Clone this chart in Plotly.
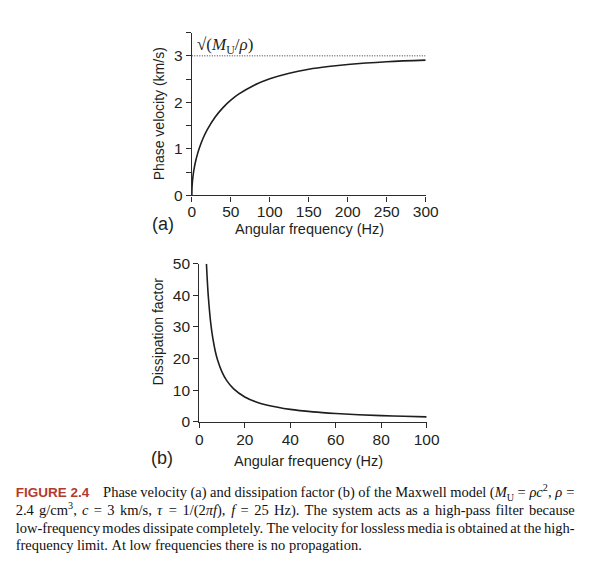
import re
import plotly.graph_objects as go

# Panel (a): phase velocity (km/s) vs angular frequency (Hz)
freq_a = [0, 0.25, 0.5, 1, 2, 3, 5, 7.5, 10, 15, 20, 30, 40, 50, 60, 80, 100, 125, 150, 175, 200, 250, 300]
vel_a = [0, 0.169, 0.239, 0.337, 0.476, 0.581, 0.745, 0.905, 1.037, 1.250, 1.421, 1.686, 1.888, 2.047,
         2.176, 2.370, 2.508, 2.628, 2.712, 2.771, 2.815, 2.873, 2.908]
v_limit = 3.0

# Panel (b): dissipation factor vs angular frequency (Hz)
freq_b = [3.14, 3.5, 4, 5, 6, 7, 8, 10, 12, 15, 20, 25, 30, 40, 50, 60, 70, 80, 90, 100]
diss_b = [50.0, 44.9, 39.3, 31.4, 26.2, 22.4, 19.6, 15.7, 13.1, 10.5, 7.85, 6.28, 5.24, 3.93, 3.14,
          2.62, 2.24, 1.96, 1.75, 1.57]

ticks_a_x = [0, 50, 100, 150, 200, 250, 300]
ticks_a_y = [0, 1, 2, 3]
minor_a_y = [0.5, 1.5, 2.5, 3.5]
ticks_b_x = [0, 20, 40, 60, 80, 100]
ticks_b_y = [0, 10, 20, 30, 40, 50]

caption_label = "FIGURE 2.4"
caption_lines = [
    "Phase velocity (a) and dissipation factor (b) of the Maxwell model (<i>M</i><sub>U</sub> = <i>ρc</i><sup>2</sup>, <i>ρ</i> =",
    "2.4 g/cm<sup>3</sup>, <i>c</i> = 3 km/s, <i>τ</i> = 1/(2<i>πf</i>), <i>f</i> = 25 Hz). The system acts as a high-pass filter because",
    "low-frequency modes dissipate completely. The velocity for lossless media is obtained at the high-",
    "frequency limit. At low frequencies there is no propagation.",
]

W, H = 600, 561
AX = "#2b2b2b"
TXT = "#231f20"
SANS = "Liberation Sans, Arial, sans-serif"
SERIF = "Liberation Serif, Times New Roman, serif"

def px(x):
    return x / W

def py(y):
    return 1 - y / H

fig = go.Figure()
fig.add_trace(go.Scatter(x=freq_a, y=vel_a, mode="lines", line=dict(color="#1e1e1e", width=1.6, shape="spline"),
                         xaxis="x", yaxis="y", showlegend=False, hoverinfo="skip"))
fig.add_trace(go.Scatter(x=[0, 300], y=[v_limit, v_limit], mode="lines",
                         line=dict(color="#333", width=1, dash="1px,1.5px"),
                         xaxis="x", yaxis="y", showlegend=False, hoverinfo="skip"))
fig.add_trace(go.Scatter(x=freq_b, y=diss_b, mode="lines", line=dict(color="#1e1e1e", width=1.6, shape="spline"),
                         xaxis="x2", yaxis="y2", showlegend=False, hoverinfo="skip"))

common = dict(showgrid=False, zeroline=False, showline=True, linecolor=AX, linewidth=1.2,
              ticks="outside", ticklen=5, tickwidth=1.2, tickcolor=AX,
              tickfont=dict(family=SANS, size=15.5, color=TXT), fixedrange=True)

# ---- caption layout (justified, word by word, Times metrics) ----
TR = {' ': 250, '(': 333, ')': 333, ',': 250, '-': 333, '.': 250, '/': 278, '=': 564,
      'A': 722, 'B': 667, 'C': 667, 'D': 722, 'E': 611, 'F': 556, 'G': 722, 'H': 722, 'I': 333,
      'M': 889, 'P': 556, 'T': 611, 'U': 722,
      'a': 444, 'b': 500, 'c': 444, 'd': 500, 'e': 444, 'f': 333, 'g': 500, 'h': 500, 'i': 278,
      'j': 278, 'k': 500, 'l': 278, 'm': 778, 'n': 500, 'o': 500, 'p': 500, 'q': 500, 'r': 333,
      's': 389, 't': 278, 'u': 500, 'v': 500, 'w': 722, 'x': 500, 'y': 500, 'z': 444,
      'ρ': 500, 'τ': 440, 'π': 540}
TI = {'M': 833, 'c': 444, 'f': 278, 'ρ': 500, 'τ': 440, 'π': 540}

def text_width(s, size):
    total = 0.0
    ital = False
    scale = 1.0
    for tok in re.split(r"(<[^>]+>)", s):
        if not tok:
            continue
        if tok.startswith("<"):
            t = tok.lower()
            if t == "<i>":
                ital = True
            elif t == "</i>":
                ital = False
            elif t in ("<sub>", "<sup>"):
                scale = 0.7
            elif t in ("</sub>", "</sup>"):
                scale = 1.0
            continue
        for ch in tok:
            w = TI.get(ch, TR.get(ch, 500)) if ital else TR.get(ch, 500)
            total += w * scale
    return total / 1000.0 * size * 1.02

CAP_SIZE = 14.5
line_start = [102, 12, 12, 12]
line_end = [587, 587, 587, None]
line_mid = [500, 518.5, 536.5, 554]

cx, cy, ct = [], [], []
for i, line in enumerate(caption_lines):
    words = line.split(" ")
    widths = [text_width(w, CAP_SIZE) for w in words]
    if line_end[i] is None:
        gap = text_width(" ", CAP_SIZE) * 1.05
    else:
        gap = (line_end[i] - line_start[i] - sum(widths)) / (len(words) - 1)
    x = line_start[i]
    for w, wd in zip(words, widths):
        cx.append(x)
        cy.append(line_mid[i])
        ct.append(w)
        x += wd + gap

fig.add_trace(go.Scatter(x=cx, y=cy, text=ct, mode="text", textposition="middle right",
                         textfont=dict(family=SERIF, size=CAP_SIZE, color="#111"),
                         xaxis="x3", yaxis="y3", showlegend=False, hoverinfo="skip", cliponaxis=False))
fig.add_trace(go.Scatter(x=[12], y=[line_mid[0]], text=["<b>" + caption_label + "</b>"], mode="text",
                         textposition="middle right",
                         textfont=dict(family=SANS, size=13.5, color="#b23a30"),
                         xaxis="x3", yaxis="y3", showlegend=False, hoverinfo="skip", cliponaxis=False))

fig.update_layout(
    width=W, height=H, margin=dict(l=0, r=0, t=0, b=0),
    paper_bgcolor="white", plot_bgcolor="rgba(0,0,0,0)",
    xaxis=dict(domain=[px(193.3), px(434)], range=[0, 300], tickvals=ticks_a_x, anchor="y",
               ticklabelstandoff=-3, **common),
    yaxis=dict(domain=[py(192.3), py(24.3)], range=[0, 3.5], tickvals=ticks_a_y, anchor="x",
               minor=dict(tickvals=minor_a_y, ticks="outside", ticklen=5, tickwidth=1.2, tickcolor=AX),
               **common),
    xaxis2=dict(domain=[px(201), px(435)], range=[0, 100], tickvals=ticks_b_x, anchor="y2",
                ticklabelstandoff=-2, **common),
    yaxis2=dict(domain=[py(425.7), py(262.7)], range=[0, 50], tickvals=ticks_b_y, anchor="x2", **common),
    xaxis3=dict(domain=[0, 1], range=[0, W], visible=False, anchor="y3", fixedrange=True),
    yaxis3=dict(domain=[0, 1], range=[H, 0], visible=False, anchor="x3", fixedrange=True),
)

ann = []
def add(text, x, y, size=14, family=SANS, color=TXT, xanchor="center", yanchor="middle", angle=0):
    ann.append(dict(text=text, x=px(x), y=py(y), xref="paper", yref="paper", showarrow=False,
                    xanchor=xanchor, yanchor=yanchor, textangle=angle, borderpad=0,
                    font=dict(family=family, size=size, color=color)))

add("Phase velocity (km/s)", 159, 108, size=14, angle=-90)
add("Angular frequency (Hz)", 314, 227, size=14.5)
add("(a)", 164, 222, size=18)
add("√(<i>M</i><sub>U</sub>/<i>ρ</i>)", 198, 38, size=17, family=SERIF, xanchor="left")

add("Dissipation factor", 158, 333, size=14, angle=-90)
add("Angular frequency (Hz)", 313, 466, size=14.5)
add("(b)", 163, 463, size=18)

fig.update_layout(annotations=ann)
fig.write_html("out.html")
